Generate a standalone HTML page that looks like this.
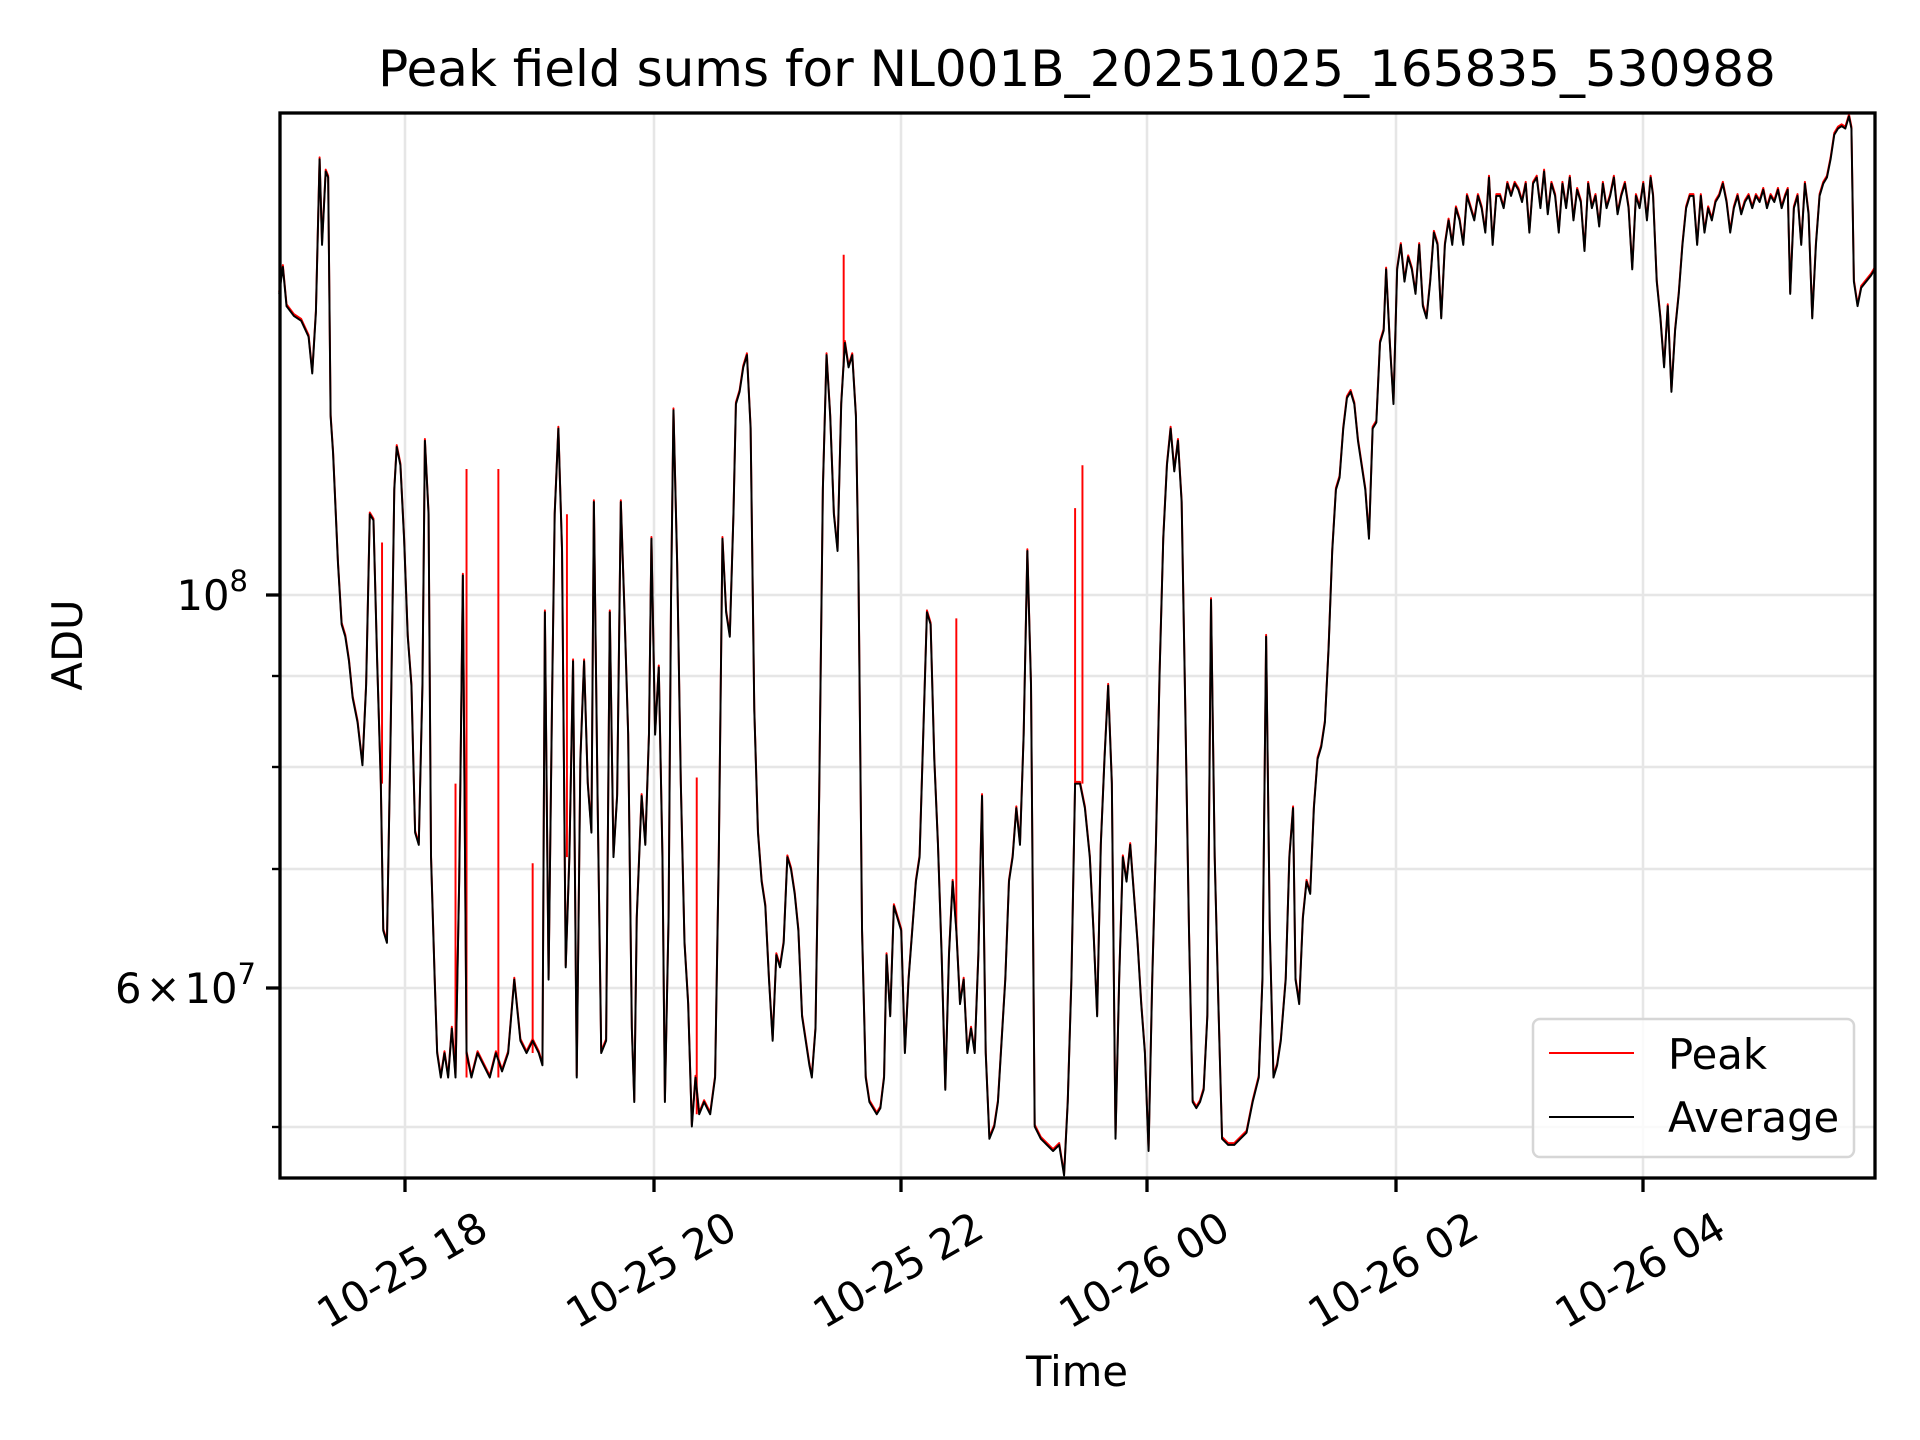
<!DOCTYPE html>
<html><head><meta charset="utf-8"><style>
html,body{margin:0;padding:0;background:#fff;}
svg{display:block;font-family:"DejaVu Sans","Liberation Sans",sans-serif;}
</style></head><body>
<svg width="1920" height="1440" viewBox="0 0 1920 1440" xmlns="http://www.w3.org/2000/svg">
<rect width="1920" height="1440" fill="#fff"/>
<g stroke="#e6e6e6" stroke-width="2.5">
<line x1="405" y1="113" x2="405" y2="1178"/><line x1="654" y1="113" x2="654" y2="1178"/>
<line x1="901" y1="113" x2="901" y2="1178"/><line x1="1147" y1="113" x2="1147" y2="1178"/>
<line x1="1396" y1="113" x2="1396" y2="1178"/><line x1="1643" y1="113" x2="1643" y2="1178"/>
<line x1="280" y1="595" x2="1875" y2="595"/><line x1="280" y1="676" x2="1875" y2="676"/>
<line x1="280" y1="767" x2="1875" y2="767"/><line x1="280" y1="869" x2="1875" y2="869"/>
<line x1="280" y1="988" x2="1875" y2="988"/><line x1="280" y1="1127" x2="1875" y2="1127"/>
</g>
<defs>
<polyline id="d" fill="none" stroke-width="1.6" stroke-linejoin="round" points="228,240 231,218 234,250 240,258 246,262 252,275 255,305 258,255 261,130 263,200 266,140 268,145 270,340 272,370 276,460 279,510 282,520 285,540 288,570 292,590 296,625 299,560 302,420 305,425 308,540 311,640 313,760 316,770 319,600 322,400 324,365 327,380 330,440 333,520 336,560 339,680 342,690 345,560 347,360 350,420 352,700 355,800 357,860 360,880 363,860 366,880 369,840 372,880 375,720 378,470 381,860 385,880 390,860 395,870 400,880 405,860 410,875 415,860 420,800 425,850 430,860 435,850 440,860 443,870 445,500 448,800 451,560 453,420 456,350 459,450 462,790 465,700 468,540 471,880 474,620 477,540 480,640 483,680 485,410 488,650 491,860 495,850 498,500 501,700 504,650 507,410 510,500 513,600 516,840 518,900 520,750 524,650 527,690 530,600 532,440 535,600 538,545 541,700 543,900 546,750 548,490 550,335 553,460 556,640 559,770 562,820 565,920 568,880 571,910 575,900 580,910 584,880 587,700 590,440 593,500 596,520 599,420 601,330 604,320 607,300 610,290 613,350 616,580 619,680 622,720 625,740 628,800 631,850 634,780 637,790 640,770 643,700 646,710 649,730 652,760 655,830 658,850 661,870 663,880 666,840 669,650 672,400 675,290 678,340 681,420 684,450 687,330 690,280 693,300 696,290 699,340 701,460 704,760 707,880 710,900 713,905 716,910 719,905 722,880 724,780 727,830 730,740 733,750 736,760 739,860 742,800 745,760 748,720 751,700 754,600 757,500 760,510 763,620 766,690 769,780 772,890 775,780 778,720 781,760 784,820 787,800 790,860 793,840 796,860 799,780 802,650 805,860 808,930 812,920 815,900 818,850 821,800 824,720 827,700 830,660 833,690 836,600 839,450 842,560 845,920 850,930 855,935 860,940 865,935 869,960 872,900 875,800 878,640 882,640 886,660 890,700 893,760 896,830 899,690 902,620 905,560 908,640 911,930 914,800 917,700 920,720 923,690 926,730 929,770 932,820 935,860 938,940 941,800 944,690 947,550 950,440 953,380 956,350 959,385 962,360 965,410 968,580 971,760 974,900 977,905 980,900 983,890 986,830 989,490 992,700 995,820 998,930 1003,935 1008,935 1013,930 1018,925 1023,900 1028,880 1031,800 1034,520 1037,760 1040,880 1043,870 1046,850 1050,800 1053,700 1056,660 1058,800 1061,820 1064,750 1067,720 1070,730 1073,660 1076,620 1079,610 1082,590 1085,530 1088,450 1091,400 1094,390 1097,350 1100,325 1103,320 1106,330 1109,360 1112,380 1115,400 1118,440 1121,350 1124,345 1127,280 1130,270 1132,220 1135,280 1138,330 1141,220 1144,200 1147,230 1150,210 1153,220 1156,240 1159,200 1162,250 1165,260 1168,230 1171,190 1174,200 1177,260 1180,200 1183,180 1186,200 1189,170 1192,180 1195,200 1198,160 1201,170 1204,180 1207,160 1210,170 1213,190 1216,145 1219,200 1222,160 1225,160 1228,170 1231,150 1234,160 1237,150 1240,155 1243,165 1246,150 1249,190 1252,150 1255,145 1258,170 1261,140 1264,175 1267,150 1270,160 1273,190 1276,150 1279,170 1282,145 1285,180 1288,155 1291,165 1294,205 1297,150 1300,170 1303,160 1306,185 1309,150 1312,170 1315,160 1318,145 1321,175 1324,160 1327,150 1330,170 1333,220 1336,160 1339,170 1342,150 1345,180 1348,145 1350,160 1353,230 1356,260 1359,300 1362,250 1365,320 1368,270 1371,240 1374,200 1377,170 1380,160 1383,160 1386,200 1389,160 1392,190 1395,170 1398,180 1401,165 1404,160 1407,150 1410,165 1413,190 1416,170 1419,160 1422,175 1425,165 1428,160 1431,170 1434,160 1437,165 1440,155 1443,170 1446,160 1449,165 1452,155 1455,170 1458,160 1460,155 1462,240 1465,170 1468,160 1471,200 1474,150 1477,175 1480,260 1483,200 1486,160 1489,150 1492,145 1495,130 1498,110 1501,105 1504,103 1507,105 1510,95 1512,105 1514,230 1517,250 1520,235 1524,230 1528,225 1531,220"/>
</defs>
<g transform="scale(1.22449)">
<use href="#d" stroke="#f00" transform="translate(0,-1.5)"/>
<g stroke="#f00" stroke-width="1.6">
<line x1="312" y1="443" x2="312" y2="640"/><line x1="372" y1="640" x2="372" y2="880"/>
<line x1="381" y1="383" x2="381" y2="880"/><line x1="407" y1="383" x2="407" y2="880"/>
<line x1="435" y1="705" x2="435" y2="860"/><line x1="569" y1="635" x2="569" y2="910"/>
<line x1="689" y1="208" x2="689" y2="300"/><line x1="781" y1="505" x2="781" y2="760"/>
<line x1="878" y1="415" x2="878" y2="640"/><line x1="884" y1="380" x2="884" y2="640"/>
<line x1="463" y1="420" x2="463" y2="700"/>
</g>
<use href="#d" stroke="#000"/>
</g>
<rect x="280" y="113" width="1595" height="1065" fill="none" stroke="#000" stroke-width="3.3"/>
<g stroke="#000" stroke-width="3.3">
<line x1="405" y1="1178" x2="405" y2="1192"/><line x1="654" y1="1178" x2="654" y2="1192"/>
<line x1="901" y1="1178" x2="901" y2="1192"/><line x1="1147" y1="1178" x2="1147" y2="1192"/>
<line x1="1396" y1="1178" x2="1396" y2="1192"/><line x1="1643" y1="1178" x2="1643" y2="1192"/>
<line x1="266" y1="595" x2="280" y2="595"/><line x1="266" y1="988" x2="280" y2="988"/>
</g>
<g stroke="#000" stroke-width="2.4">
<line x1="272" y1="676" x2="280" y2="676"/><line x1="272" y1="767" x2="280" y2="767"/>
<line x1="272" y1="869" x2="280" y2="869"/><line x1="272" y1="1127" x2="280" y2="1127"/>
</g>
<g font-size="41.7" fill="#000">
<text x="248" y="610" text-anchor="end">10<tspan font-size="29" dy="-19">8</tspan></text>
<text x="256" y="1003" text-anchor="end">6<tspan dx="4">×</tspan><tspan dx="4">10</tspan><tspan font-size="29" dy="-19">7</tspan></text>
<g text-anchor="middle" dominant-baseline="central">
<text transform="translate(402,1270) rotate(-30)">10-25 18</text>
<text transform="translate(651,1270) rotate(-30)">10-25 20</text>
<text transform="translate(898,1270) rotate(-30)">10-25 22</text>
<text transform="translate(1144,1270) rotate(-30)">10-26 00</text>
<text transform="translate(1393,1270) rotate(-30)">10-26 02</text>
<text transform="translate(1640,1270) rotate(-30)">10-26 04</text>
</g>
<text x="1077" y="1386" text-anchor="middle">Time</text>
<text transform="translate(82,645) rotate(-90)" text-anchor="middle">ADU</text>
<text x="1077" y="86" text-anchor="middle" font-size="50">Peak field sums for NL001B_20251025_165835_530988</text>
</g>
<rect x="1533" y="1019" width="321" height="138" rx="7" fill="#fff" fill-opacity="0.8" stroke="#d6d6d6" stroke-width="2.5"/>
<line x1="1549" y1="1053" x2="1634" y2="1053" stroke="#f00" stroke-width="2"/>
<line x1="1549" y1="1117" x2="1634" y2="1117" stroke="#000" stroke-width="2"/>
<text x="1668" y="1069" font-size="41.7">Peak</text>
<text x="1668" y="1132" font-size="41.7">Average</text>
</svg>
</body></html>
